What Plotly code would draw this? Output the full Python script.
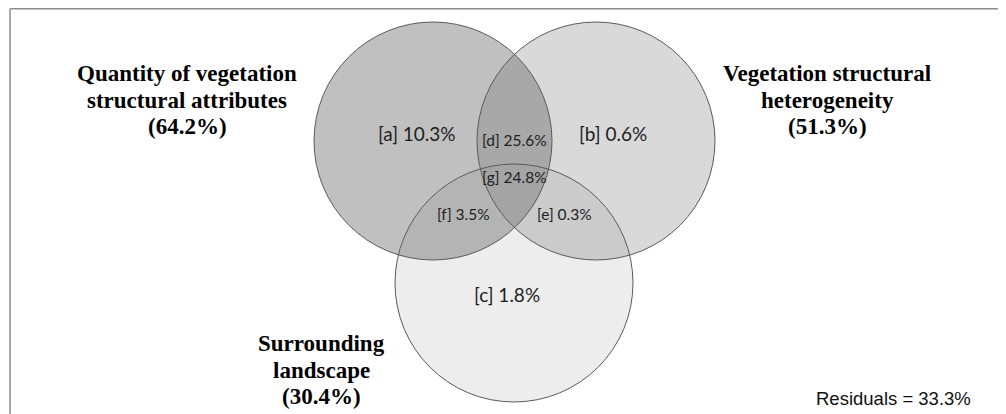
import numpy as np
import plotly.graph_objects as go

# ---- data ----
region_codes = ["a", "b", "c", "d", "e", "f", "g"]
region_values = [10.3, 0.6, 1.8, 25.6, 0.3, 3.5, 24.8]
set_names = [
    ["Quantity of vegetation", "structural attributes"],
    ["Vegetation structural", "heterogeneity"],
    ["Surrounding", "landscape"],
]
set_totals = [64.2, 51.3, 30.4]
residual_value = 33.3

# ---- layout (pixel geometry, in page pixels) ----
W, H = 1006, 414
OFF = 8  # page body margin
R = 119
circles = {"A": (433, 141), "B": (596, 141), "C": (514, 283)}
fills = {
    ("A",): "#c0c0c0",
    ("B",): "#d9d9d9",
    ("C",): "#ededed",
    ("A", "B"): "#a8a8a8",
    ("A", "C"): "#b4b4b4",
    ("B", "C"): "#cbcbcb",
    ("A", "B", "C"): "#a4a4a4",
}
region_pos = {
    "a": (417, 133, 19), "b": (613, 133, 19), "c": (507, 294, 19),
    "d": (514, 140, 15.5), "g": (514, 177, 15.5), "f": (463, 214, 15.5), "e": (564, 214, 15.5),
}
set_label_pos = [(187, [73, 100, 126]), (827, [73, 100, 126]), (321, [343, 370, 396])]


def region_polygon(keys, n=720):
    pts = []
    t = np.linspace(0, 2 * np.pi, n, endpoint=False)
    for k in keys:
        cx, cy = circles[k]
        px, py = cx + R * np.cos(t), cy + R * np.sin(t)
        ok = np.ones(n, dtype=bool)
        for o in keys:
            if o == k:
                continue
            ox, oy = circles[o]
            ok &= (px - ox) ** 2 + (py - oy) ** 2 <= R ** 2 + 1e-6
        pts.extend(zip(px[ok], py[ok]))
    pts = np.array(pts)
    c = pts.mean(axis=0)
    ang = np.arctan2(pts[:, 1] - c[1], pts[:, 0] - c[0])
    pts = pts[np.argsort(ang)]
    return np.r_[pts[:, 0], pts[0, 0]], np.r_[pts[:, 1], pts[0, 1]]


fig = go.Figure()
for keys, col in fills.items():
    xs, ys = region_polygon(keys)
    fig.add_trace(go.Scatter(x=xs, y=ys, mode="lines", fill="toself", fillcolor=col,
                             line=dict(width=0, color=col), hoverinfo="skip", showlegend=False))

shapes = []
for k, (cx, cy) in circles.items():
    shapes.append(dict(type="circle", xref="x", yref="y", x0=cx - R, x1=cx + R, y0=cy - R, y1=cy + R,
                       line=dict(color="#5a5a5a", width=1), fillcolor="rgba(0,0,0,0)", layer="above"))
# frame
shapes.append(dict(type="line", xref="x", yref="y", x0=10, x1=1004, y0=8.8, y1=8.8,
                   line=dict(color="#8c8c8c", width=1.6)))
shapes.append(dict(type="line", xref="x", yref="y", x0=10, x1=10, y0=8.8, y1=414,
                   line=dict(color="#8c8c8c", width=1.5)))

annotations = []
for code, val in zip(region_codes, region_values):
    x, y, fs = region_pos[code]
    annotations.append(dict(x=x, y=y, xref="x", yref="y", text=f"[{code}] {val}%", showarrow=False,
                            xanchor="center", yanchor="middle",
                            font=dict(family="Lato, Open Sans, sans-serif", size=fs, color="#1e1e1e")))
for (lines, total), (x, ys) in zip(zip(set_names, set_totals), set_label_pos):
    texts = lines + [f"({total}%)"]
    for t, y in zip(texts, ys):
        annotations.append(dict(x=x, y=y, xref="x", yref="y", text=f"<b>{t}</b>", showarrow=False,
                                xanchor="center", yanchor="middle",
                                font=dict(family="Liberation Serif, Times New Roman, serif", size=23,
                                          color="#000000")))
annotations.append(dict(x=973, y=398, xref="x", yref="y", text=f"Residuals = {residual_value}%",
                        showarrow=False, xanchor="right", yanchor="middle",
                        font=dict(family="Liberation Sans, Arial, sans-serif", size=18.5, color="#111111")))

fig.update_layout(
    width=W - OFF, height=H - OFF, margin=dict(l=0, r=0, t=0, b=0),
    paper_bgcolor="white", plot_bgcolor="white",
    xaxis=dict(range=[OFF, W], visible=False, fixedrange=True),
    yaxis=dict(range=[H, OFF], visible=False, fixedrange=True),
    shapes=shapes, annotations=annotations, showlegend=False,
)
fig.write_html("out.html")
